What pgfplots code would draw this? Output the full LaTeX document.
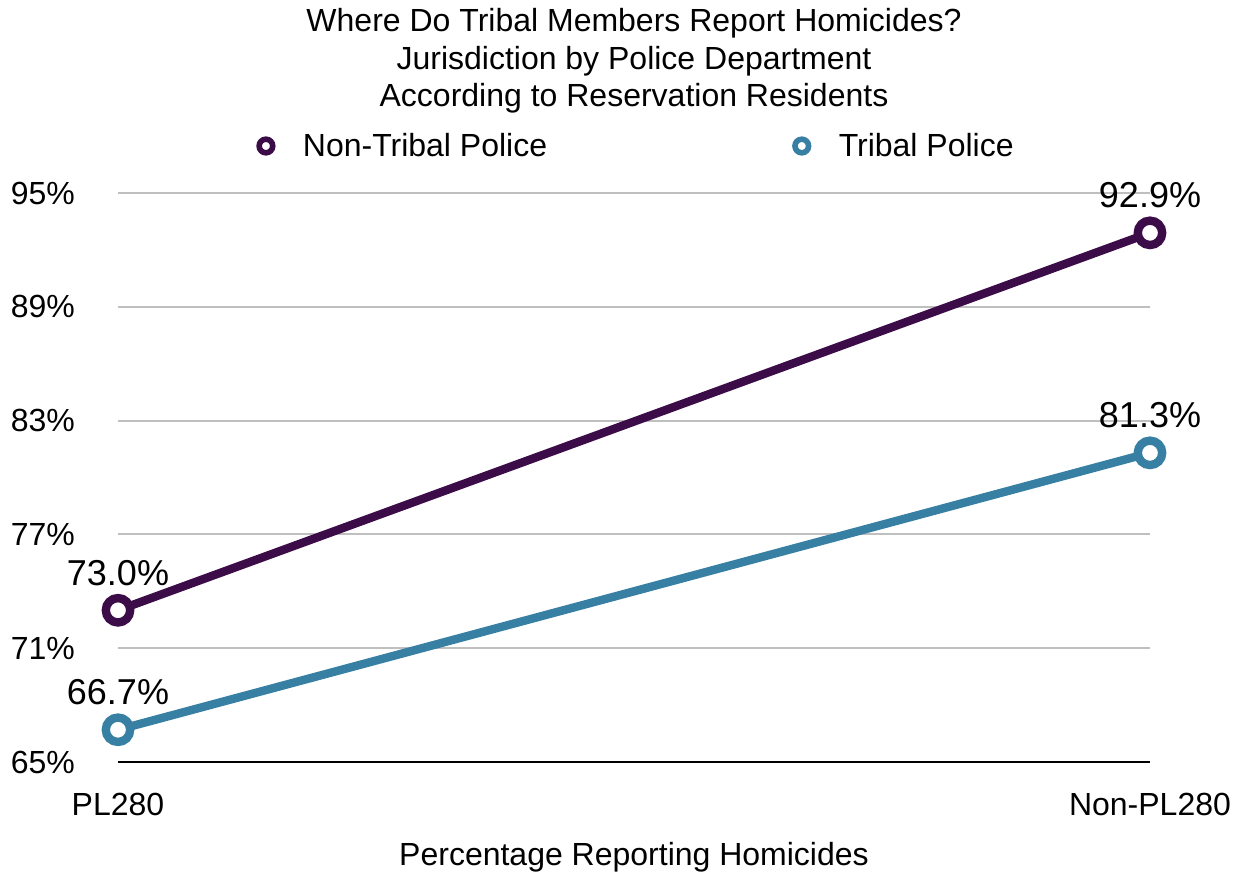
\documentclass[border=0pt]{standalone}
\usepackage{pgfplots}
\pgfplotsset{compat=1.18}
\usepackage{fontspec}
\setmainfont{Liberation Sans}

\definecolor{nontribal}{RGB}{60,12,72}
\definecolor{tribal}{RGB}{56,128,163}
\definecolor{gridgray}{RGB}{191,191,191}

\begin{document}
\begin{tikzpicture}
\path[use as bounding box] (-59pt,-56pt) rectangle (559.5pt,381pt);
\begin{axis}[
  scale only axis,
  width=516pt, height=284.5pt,
  xmin=0, xmax=1,
  ymin=65, ymax=95,
  xtick={0,1},
  xticklabels={PL280,Non-PL280},
  ytick={65,71,...,95},
  yticklabel={\pgfmathprintnumber{\tick}\%},
  /pgf/number format/assume math mode=true,
  major tick length=0pt,
  tick label style={font=\fontsize{16}{18}\selectfont},
  x tick label style={yshift=-12pt},
  y tick label style={xshift=-18pt},
  axis x line*=bottom,
  axis y line*=left,
  x axis line style={black, line width=1pt},
  y axis line style={draw=none},
  ymajorgrids,
  grid style={gridgray, line width=1pt},
  xlabel={Percentage Reporting Homicides},
  xlabel style={at={(0.5,0)}, anchor=center, yshift=-47.5pt, font=\fontsize{16}{18}\selectfont},
  title={Where Do Tribal Members Report Homicides?\\Jurisdiction by Police Department\\According to Reservation Residents},
  title style={at={(0.5,1)}, anchor=south, yshift=30.5pt, align=center, font=\fontsize{16}{18.6}\selectfont},
  legend columns=2,
  legend style={at={(0.5,1)}, anchor=center, xshift=1.5pt, yshift=23.5pt, draw=none, fill=none,
    font=\fontsize{16}{18}\selectfont,
    /tikz/every even column/.append style={column sep=120.5pt}},
  legend image code/.code={%
    \path[draw=none] (0pt,0pt) -- (16.5pt,0pt);
    \draw[#1, line width=2.8pt, fill=white] (0pt,0pt) circle (3.4pt);},
  nodes near coords={\pgfmathprintnumber[fixed,fixed zerofill,precision=1]{\pgfplotspointmeta}\%},
  every node near coord/.append style={font=\fontsize{18}{20}\selectfont, text=black, yshift=7pt},
  clip=false,
]
\addplot[nontribal, line width=4.2pt, mark=*, mark size=6.1pt,
  mark options={fill=white, line width=4.2pt}] coordinates {(0,73.0) (1,92.9)};
\addlegendentry{Non-Tribal Police}
\addplot[tribal, line width=4.2pt, mark=*, mark size=6.1pt,
  mark options={fill=white, line width=4.2pt}] coordinates {(0,66.7) (1,81.3)};
\addlegendentry{Tribal Police}
\end{axis}
\end{tikzpicture}
\end{document}
